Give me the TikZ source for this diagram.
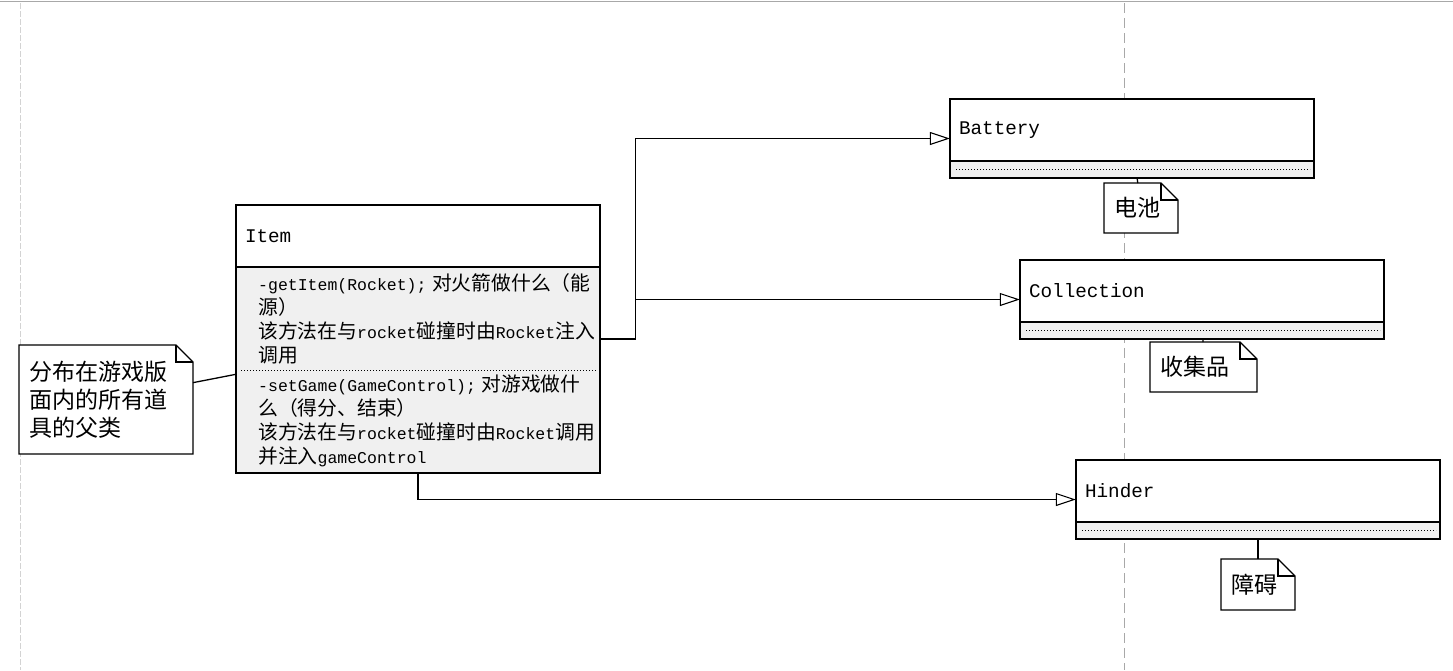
\documentclass[tikz,border=0pt]{standalone}
\usepackage{fontspec}
\setmonofont{Liberation Mono}
\newfontfamily\cjk[Scale=1.2]{Noto Sans CJK SC}
\usepackage{tikz}
\usetikzlibrary{arrows, arrows.meta, positioning, calc, fit}
\newcommand{\zh}[1]{{\cjk #1}}
\newcommand{\dogear}[1]{%
	\draw[noteline] (#1.south west) -- (#1.north west) -- ([xshift=-17pt]#1.north east) -- ([yshift=-17pt]#1.north east) -- (#1.south east) -- cycle;
	\draw[noteline] ([xshift=-17pt]#1.north east) |- ([yshift=-17pt]#1.north east);}
\definecolor{bodygray}{HTML}{F0F0F0}
\definecolor{edgegray}{HTML}{A8A8A8}
\tikzset{
	classhead/.style={draw, line width=1.3pt, outer sep=0pt, fill=white, anchor=north west, minimum height=62pt, text width=346pt, inner xsep=9pt, align=left, font=\fontsize{19.3}{24}\selectfont\ttfamily},
	classfoot/.style={draw, line width=1.3pt, outer sep=0pt, fill=bodygray, minimum width=364pt, minimum height=17pt, inner sep=0pt},
	optext/.style={anchor=base west, inner sep=0pt, text width=350pt, align=left, font=\fontsize{16.5}{24}\selectfont\ttfamily},
	notebox/.style={fill=white, outer sep=0pt, anchor=north west, inner xsep=10pt, inner ysep=0pt, align=left, font=\fontsize{19.2}{28}\selectfont\cjk},
	noteline/.style={line width=1.3pt, line join=miter},
	genarrow/.style={line width=1.3pt, -{Triangle[open, length=20pt, width=13pt, line width=1.1pt]}},
	pagebreak/.style={edgegray, line width=0.8pt, dash pattern=on 10pt off 5pt}
}
\begin{document}
\begin{tikzpicture}[x=1pt, y=-1pt]
	\useasboundingbox (0,0) rectangle (1453,670);
	\fill[white] (0,0) rectangle (1453,670);
	\draw[edgegray, line width=1.2pt] (0,1.5) -- (1453,1.5);
	\draw[edgegray!50, line width=0.8pt, dash pattern=on 6pt off 2pt] (20,3) -- (20,670);
	\draw[pagebreak] (1124,3) -- (1124,670);

	\node[classhead] (itemhead) at (236,205) {Item};
	\node[classfoot, minimum height=206pt, below=0pt of itemhead] (itembody) {};
	\node[optext] (itemop1) at ($(itembody.north west)+(22,23)$) {-getItem(Rocket); \zh{对火箭做什么（能}\\\zh{源）}\\\zh{该方法在与}rocket\zh{碰撞时由}Rocket\zh{注入}\\\zh{调用}};
	\draw[dotted, line width=1pt] ($(itembody.north west)+(5,103)$) coordinate (itemsep) -- ($(itembody.north east)+(-4,103)$);
	\node[optext] (itemop2) at ($(itemsep)+(17,21)$) {-setGame(GameControl); \zh{对游戏做什}\\\zh{么（得分、结束）}\\\zh{该方法在与}rocket\zh{碰撞时由}Rocket\zh{调用}\\\zh{并注入}gameControl};
	\node[fit=(itemhead)(itembody), inner sep=0pt] (item) {};

	\node[classhead] (batteryhead) at (950,99) {Battery};
	\node[classfoot, below=0pt of batteryhead] (batteryfoot) {};
	\draw[dotted, line width=1pt] ([xshift=6pt]batteryfoot.west) -- ([xshift=-4pt]batteryfoot.east);
	\node[fit=(batteryhead)(batteryfoot), inner sep=0pt] (battery) {};

	\node[classhead] (collectionhead) at (1020,260) {Collection};
	\node[classfoot, below=0pt of collectionhead] (collectionfoot) {};
	\draw[dotted, line width=1pt] ([xshift=6pt]collectionfoot.west) -- ([xshift=-4pt]collectionfoot.east);
	\node[fit=(collectionhead)(collectionfoot), inner sep=0pt] (collection) {};

	\node[classhead] (hinderhead) at (1076,460) {Hinder};
	\node[classfoot, below=0pt of hinderhead] (hinderfoot) {};
	\draw[dotted, line width=1pt] ([xshift=6pt]hinderfoot.west) -- ([xshift=-4pt]hinderfoot.east);
	\node[fit=(hinderhead)(hinderfoot), inner sep=0pt] (hinder) {};

	\node[notebox, minimum width=174pt, minimum height=109pt, text width=154pt] (itemnote) at (19,345) {分布在游戏版\\面内的所有道\\具的父类};
	\dogear{itemnote}
	\node[notebox, minimum width=74pt, minimum height=50pt, text width=54pt] (batterynote) at (1104,183) {电池};
	\dogear{batterynote}
	\node[notebox, minimum width=107pt, minimum height=50pt, text width=87pt] (collectionnote) at (1150,342) {收集品};
	\dogear{collectionnote}
	\node[notebox, minimum width=74pt, minimum height=51pt, text width=54pt] (hindernote) at (1221,559) {障碍};
	\dogear{hindernote}

	\draw[noteline] (itemnote) -- (item);
	\draw[noteline] (battery) -- (batterynote);
	\draw[noteline] (collection) -- (collectionnote);
	\draw[noteline] (hinder) -- (hindernote);

	\draw[genarrow] (item.east) -- ++(35,0) |- (battery.west);
	\draw[genarrow] (item.east) -- ++(35,0) |- (collection.west);
	\draw[genarrow] (item.south) |- (hinder.west);
\end{tikzpicture}
\end{document}
